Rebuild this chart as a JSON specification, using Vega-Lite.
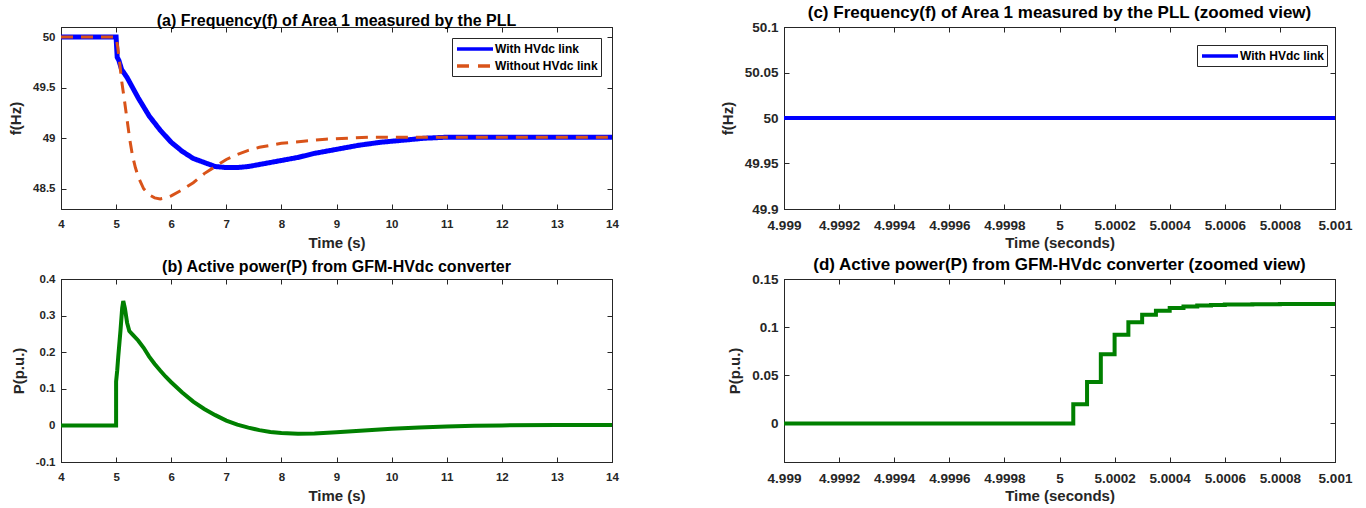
{
  "$schema": "https://vega.github.io/schema/vega-lite/v6.json",
  "padding": {"left": 8, "top": 3, "right": 5, "bottom": 5},
  "background": "white",
  "config": {
    "font": "Liberation Sans",
    "view": {"stroke": "#262626", "strokeWidth": 1},
    "axis": {
      "grid": false,
      "domainColor": "#262626",
      "tickColor": "#262626",
      "tickSize": -5,
      "labelFont": "Liberation Sans",
      "labelFontSize": 11.5,
      "labelFontWeight": "bold",
      "labelColor": "#262626",
      "labelFlush": false,
      "labelOverlap": false,
      "titleFont": "Liberation Sans",
      "titleFontSize": 15,
      "titleFontWeight": "bold",
      "titleColor": "#262626"
    },
    "axisX": {"labelPadding": 14, "titlePadding": 6},
    "axisY": {"labelPadding": 11, "titlePadding": 9},
    "title": {"font": "Liberation Sans", "fontSize": 16, "fontWeight": "bold", "color": "black", "offset": -2, "anchor": "middle"},
    "legend": {"labelFont": "Liberation Sans"}
  },
  "datasets": {
    "freq": [
      {"t": 4, "f": 50, "series": "With HVdc link"},
      {"t": 5.0, "f": 50, "series": "With HVdc link"},
      {"t": 5.02, "f": 49.8, "series": "With HVdc link"},
      {"t": 5.05, "f": 49.77, "series": "With HVdc link"},
      {"t": 5.1, "f": 49.68, "series": "With HVdc link"},
      {"t": 5.2, "f": 49.6, "series": "With HVdc link"},
      {"t": 5.3, "f": 49.5, "series": "With HVdc link"},
      {"t": 5.4, "f": 49.4, "series": "With HVdc link"},
      {"t": 5.5, "f": 49.31, "series": "With HVdc link"},
      {"t": 5.6, "f": 49.22, "series": "With HVdc link"},
      {"t": 5.7, "f": 49.15, "series": "With HVdc link"},
      {"t": 5.8, "f": 49.08, "series": "With HVdc link"},
      {"t": 5.9, "f": 49.02, "series": "With HVdc link"},
      {"t": 6.0, "f": 48.96, "series": "With HVdc link"},
      {"t": 6.2, "f": 48.87, "series": "With HVdc link"},
      {"t": 6.4, "f": 48.8, "series": "With HVdc link"},
      {"t": 6.6, "f": 48.76, "series": "With HVdc link"},
      {"t": 6.8, "f": 48.72, "series": "With HVdc link"},
      {"t": 7.0, "f": 48.71, "series": "With HVdc link"},
      {"t": 7.2, "f": 48.71, "series": "With HVdc link"},
      {"t": 7.4, "f": 48.72, "series": "With HVdc link"},
      {"t": 7.6, "f": 48.74, "series": "With HVdc link"},
      {"t": 7.8, "f": 48.76, "series": "With HVdc link"},
      {"t": 8.0, "f": 48.78, "series": "With HVdc link"},
      {"t": 8.3, "f": 48.81, "series": "With HVdc link"},
      {"t": 8.6, "f": 48.85, "series": "With HVdc link"},
      {"t": 9.0, "f": 48.89, "series": "With HVdc link"},
      {"t": 9.4, "f": 48.93, "series": "With HVdc link"},
      {"t": 9.8, "f": 48.96, "series": "With HVdc link"},
      {"t": 10.2, "f": 48.98, "series": "With HVdc link"},
      {"t": 10.6, "f": 49.0, "series": "With HVdc link"},
      {"t": 11.0, "f": 49.01, "series": "With HVdc link"},
      {"t": 12.0, "f": 49.01, "series": "With HVdc link"},
      {"t": 14.0, "f": 49.01, "series": "With HVdc link"},
      {"t": 4, "f": 50, "series": "Without HVdc link"},
      {"t": 5.0, "f": 50, "series": "Without HVdc link"},
      {"t": 5.03, "f": 49.9, "series": "Without HVdc link"},
      {"t": 5.07, "f": 49.72, "series": "Without HVdc link"},
      {"t": 5.1, "f": 49.57, "series": "Without HVdc link"},
      {"t": 5.15, "f": 49.38, "series": "Without HVdc link"},
      {"t": 5.2, "f": 49.18, "series": "Without HVdc link"},
      {"t": 5.25, "f": 48.98, "series": "Without HVdc link"},
      {"t": 5.3, "f": 48.82, "series": "Without HVdc link"},
      {"t": 5.35, "f": 48.71, "series": "Without HVdc link"},
      {"t": 5.4, "f": 48.62, "series": "Without HVdc link"},
      {"t": 5.5, "f": 48.5, "series": "Without HVdc link"},
      {"t": 5.6, "f": 48.44, "series": "Without HVdc link"},
      {"t": 5.7, "f": 48.41, "series": "Without HVdc link"},
      {"t": 5.8, "f": 48.4, "series": "Without HVdc link"},
      {"t": 5.9, "f": 48.41, "series": "Without HVdc link"},
      {"t": 6.0, "f": 48.43, "series": "Without HVdc link"},
      {"t": 6.2, "f": 48.49, "series": "Without HVdc link"},
      {"t": 6.4, "f": 48.56, "series": "Without HVdc link"},
      {"t": 6.6, "f": 48.65, "series": "Without HVdc link"},
      {"t": 6.8, "f": 48.72, "series": "Without HVdc link"},
      {"t": 7.0, "f": 48.79, "series": "Without HVdc link"},
      {"t": 7.2, "f": 48.84, "series": "Without HVdc link"},
      {"t": 7.4, "f": 48.88, "series": "Without HVdc link"},
      {"t": 7.6, "f": 48.91, "series": "Without HVdc link"},
      {"t": 7.8, "f": 48.93, "series": "Without HVdc link"},
      {"t": 8.0, "f": 48.95, "series": "Without HVdc link"},
      {"t": 8.4, "f": 48.97, "series": "Without HVdc link"},
      {"t": 8.8, "f": 48.99, "series": "Without HVdc link"},
      {"t": 9.2, "f": 49.0, "series": "Without HVdc link"},
      {"t": 9.6, "f": 49.01, "series": "Without HVdc link"},
      {"t": 10.0, "f": 49.01, "series": "Without HVdc link"},
      {"t": 14.0, "f": 49.01, "series": "Without HVdc link"}
    ],
    "freqz": [
      {"t": 4.999, "f": 50, "series": "With HVdc link"},
      {"t": 5.001, "f": 50, "series": "With HVdc link"}
    ],
    "power": [
      {"i": 0, "t": 4, "p": 0},
      {"i": 1, "t": 5.0, "p": 0},
      {"i": 2, "t": 5.0, "p": 0.12},
      {"i": 3, "t": 5.02, "p": 0.15},
      {"i": 4, "t": 5.04, "p": 0.19},
      {"i": 5, "t": 5.08, "p": 0.26},
      {"i": 6, "t": 5.11, "p": 0.32},
      {"i": 7, "t": 5.13, "p": 0.34},
      {"i": 8, "t": 5.16, "p": 0.32},
      {"i": 9, "t": 5.2, "p": 0.28},
      {"i": 10, "t": 5.24, "p": 0.258},
      {"i": 11, "t": 5.3, "p": 0.248},
      {"i": 12, "t": 5.4, "p": 0.232},
      {"i": 13, "t": 5.5, "p": 0.212},
      {"i": 14, "t": 5.6, "p": 0.188},
      {"i": 15, "t": 5.7, "p": 0.168},
      {"i": 16, "t": 5.8, "p": 0.15},
      {"i": 17, "t": 5.9, "p": 0.133},
      {"i": 18, "t": 6.0, "p": 0.118},
      {"i": 19, "t": 6.2, "p": 0.09},
      {"i": 20, "t": 6.4, "p": 0.065},
      {"i": 21, "t": 6.6, "p": 0.045},
      {"i": 22, "t": 6.8, "p": 0.028},
      {"i": 23, "t": 7.0, "p": 0.013},
      {"i": 24, "t": 7.2, "p": 0.002},
      {"i": 25, "t": 7.4, "p": -0.006},
      {"i": 26, "t": 7.6, "p": -0.013},
      {"i": 27, "t": 7.8, "p": -0.018},
      {"i": 28, "t": 8.0, "p": -0.021},
      {"i": 29, "t": 8.3, "p": -0.023},
      {"i": 30, "t": 8.6, "p": -0.022},
      {"i": 31, "t": 9.0, "p": -0.019},
      {"i": 32, "t": 9.5, "p": -0.014},
      {"i": 33, "t": 10.0, "p": -0.009},
      {"i": 34, "t": 10.5, "p": -0.006},
      {"i": 35, "t": 11.0, "p": -0.003},
      {"i": 36, "t": 11.5, "p": -0.001},
      {"i": 37, "t": 12.0, "p": 0},
      {"i": 38, "t": 13.0, "p": 0.001},
      {"i": 39, "t": 14.0, "p": 0.001}
    ],
    "powerz": [
      {"t": 4.999, "p": 0},
      {"t": 5.00005, "p": 0.02},
      {"t": 5.0001, "p": 0.043},
      {"t": 5.00015, "p": 0.072},
      {"t": 5.0002, "p": 0.092},
      {"t": 5.00025, "p": 0.105},
      {"t": 5.0003, "p": 0.113},
      {"t": 5.00035, "p": 0.117},
      {"t": 5.0004, "p": 0.12},
      {"t": 5.00045, "p": 0.1215},
      {"t": 5.0005, "p": 0.1225},
      {"t": 5.00055, "p": 0.123},
      {"t": 5.0006, "p": 0.1235},
      {"t": 5.0007, "p": 0.1238},
      {"t": 5.0008, "p": 0.124},
      {"t": 5.001, "p": 0.124}
    ]
  },
  "bounds": "flush",
  "columns": 2,
  "spacing": {"row": 70, "column": 172},
  "resolve": {"scale": {"color": "independent"}, "legend": {"color": "independent"}},
  "concat": [
    {
      "title": {"text": "(a) Frequency(f) of Area 1 measured by the PLL", "fontSize": 16},
      "width": 551,
      "height": 182,
      "data": {"name": "freq"},
      "layer": [
        {
          "mark": {"type": "line", "clip": true},
          "encoding": {
            "x": {"field": "t", "type": "quantitative", "scale": {"domain": [4, 14], "nice": false},
                  "axis": {"title": "Time (s)", "values": [4, 5, 6, 7, 8, 9, 10, 11, 12, 13, 14], "format": "~g"}},
            "y": {"field": "f", "type": "quantitative", "scale": {"domain": [48.3, 50.1], "nice": false, "zero": false},
                  "axis": {"title": "f(Hz)", "values": [48.5, 49, 49.5, 50], "format": "~g"}},
            "color": {"field": "series", "type": "nominal",
                      "scale": {"domain": ["With HVdc link", "Without HVdc link"], "range": ["#0000ff", "#d95319"]},
                      "legend": {"title": null, "orient": "none", "legendX": 391, "legendY": 11, "strokeColor": "#262626", "fillColor": "white", "padding": 3, "symbolType": "M-1,0L5,0", "symbolSize": 144, "symbolStrokeWidth": 3.5, "labelFontSize": 12, "labelFontWeight": "bold", "labelColor": "black", "rowPadding": 2, "labelOffset": 24,
                                 "encode": {"symbols": {"update": {"strokeDash": {"signal": "datum.value === 'Without HVdc link' ? [12, 9] : [1, 0]"}}}}}},
            "strokeDash": {"field": "series", "type": "nominal",
                      "scale": {"domain": ["With HVdc link", "Without HVdc link"], "range": [[1, 0], [12, 8]]}, "legend": null},
            "strokeWidth": {"field": "series", "type": "nominal",
                      "scale": {"domain": ["With HVdc link", "Without HVdc link"], "range": [5, 3]}, "legend": null}
          }
        },
        {
          "mark": {"type": "line", "opacity": 0},
          "encoding": {
            "x": {"field": "t", "type": "quantitative", "axis": {"orient": "top", "title": null, "labels": false, "values": [4, 5, 6, 7, 8, 9, 10, 11, 12, 13, 14]}},
            "y": {"field": "f", "type": "quantitative", "axis": {"orient": "right", "title": null, "labels": false, "values": [48.5, 49, 49.5, 50]}}
          }
        }
      ],
      "resolve": {"axis": {"x": "independent", "y": "independent"}}
    },
    {
      "title": {"text": "(c) Frequency(f) of  Area 1 measured by the PLL (zoomed view)", "fontSize": 17},
      "width": 551,
      "height": 182,
      "data": {"name": "freqz"},
      "layer": [
        {
          "mark": {"type": "line", "clip": true, "strokeWidth": 4},
          "encoding": {
            "x": {"field": "t", "type": "quantitative", "scale": {"domain": [4.999, 5.001], "nice": false, "zero": false},
                  "axis": {"title": "Time (seconds)", "labelFontSize": 13.5, "titlePadding": 4, "values": [4.999, 4.9992, 4.9994, 4.9996, 4.9998, 5, 5.0002, 5.0004, 5.0006, 5.0008, 5.001], "format": ".5~g"}},
            "y": {"field": "f", "type": "quantitative", "scale": {"domain": [49.9, 50.1], "nice": false, "zero": false},
                  "axis": {"title": "f(Hz)", "labelFontSize": 13.5, "values": [49.9, 49.95, 50, 50.05, 50.1], "format": ".4~g"}},
            "color": {"field": "series", "type": "nominal",
                      "scale": {"domain": ["With HVdc link"], "range": ["#0000ff"]},
                      "legend": {"title": null, "orient": "none", "legendX": 413, "legendY": 18, "strokeColor": "#262626", "fillColor": "white", "padding": 3, "symbolType": "M-1,0L5,0", "symbolSize": 144, "symbolStrokeWidth": 3.5, "labelFontSize": 12, "labelFontWeight": "bold", "labelColor": "black", "labelOffset": 24}}
          }
        },
        {
          "mark": {"type": "line", "opacity": 0},
          "encoding": {
            "x": {"field": "t", "type": "quantitative", "axis": {"orient": "top", "title": null, "labels": false, "values": [4.999, 4.9992, 4.9994, 4.9996, 4.9998, 5, 5.0002, 5.0004, 5.0006, 5.0008, 5.001]}},
            "y": {"field": "f", "type": "quantitative", "axis": {"orient": "right", "title": null, "labels": false, "values": [49.9, 49.95, 50, 50.05, 50.1]}}
          }
        }
      ],
      "resolve": {"axis": {"x": "independent", "y": "independent"}}
    },
    {
      "title": {"text": "(b) Active power(P) from GFM-HVdc converter", "fontSize": 16},
      "width": 551,
      "height": 183,
      "data": {"name": "power"},
      "layer": [
        {
          "mark": {"type": "line", "clip": true, "color": "#008000", "strokeWidth": 4},
          "encoding": {
            "order": {"field": "i", "type": "quantitative"},
            "x": {"field": "t", "type": "quantitative", "scale": {"domain": [4, 14], "nice": false},
                  "axis": {"title": "Time (s)", "values": [4, 5, 6, 7, 8, 9, 10, 11, 12, 13, 14], "format": "~g"}},
            "y": {"field": "p", "type": "quantitative", "scale": {"domain": [-0.1, 0.4], "nice": false, "zero": false},
                  "axis": {"title": "P(p.u.)", "values": [-0.1, 0, 0.1, 0.2, 0.3, 0.4], "format": "~g", "labelExpr": "replace(datum.label, '\u2212', '-')"}}
          }
        },
        {
          "mark": {"type": "line", "opacity": 0},
          "encoding": {
            "x": {"field": "t", "type": "quantitative", "axis": {"orient": "top", "title": null, "labels": false, "values": [4, 5, 6, 7, 8, 9, 10, 11, 12, 13, 14]}},
            "y": {"field": "p", "type": "quantitative", "axis": {"orient": "right", "title": null, "labels": false, "values": [-0.1, 0, 0.1, 0.2, 0.3, 0.4]}}
          }
        }
      ],
      "resolve": {"axis": {"x": "independent", "y": "independent"}}
    },
    {
      "title": {"text": "(d) Active power(P) from GFM-HVdc converter (zoomed view)", "fontSize": 17},
      "width": 551,
      "height": 183,
      "data": {"name": "powerz"},
      "layer": [
        {
          "mark": {"type": "line", "clip": true, "color": "#008000", "strokeWidth": 4, "interpolate": "step-after"},
          "encoding": {
            "x": {"field": "t", "type": "quantitative", "scale": {"domain": [4.999, 5.001], "nice": false, "zero": false},
                  "axis": {"title": "Time (seconds)", "labelFontSize": 13.5, "titlePadding": 4, "values": [4.999, 4.9992, 4.9994, 4.9996, 4.9998, 5, 5.0002, 5.0004, 5.0006, 5.0008, 5.001], "format": ".5~g"}},
            "y": {"field": "p", "type": "quantitative", "scale": {"domain": [-0.04, 0.15], "nice": false, "zero": false},
                  "axis": {"title": "P(p.u.)", "labelFontSize": 13.5, "values": [0, 0.05, 0.1, 0.15], "format": ".3~g"}}
          }
        },
        {
          "mark": {"type": "line", "opacity": 0},
          "encoding": {
            "x": {"field": "t", "type": "quantitative", "axis": {"orient": "top", "title": null, "labels": false, "values": [4.999, 4.9992, 4.9994, 4.9996, 4.9998, 5, 5.0002, 5.0004, 5.0006, 5.0008, 5.001]}},
            "y": {"field": "p", "type": "quantitative", "axis": {"orient": "right", "title": null, "labels": false, "values": [0, 0.05, 0.1, 0.15]}}
          }
        }
      ],
      "resolve": {"axis": {"x": "independent", "y": "independent"}}
    }
  ]
}
